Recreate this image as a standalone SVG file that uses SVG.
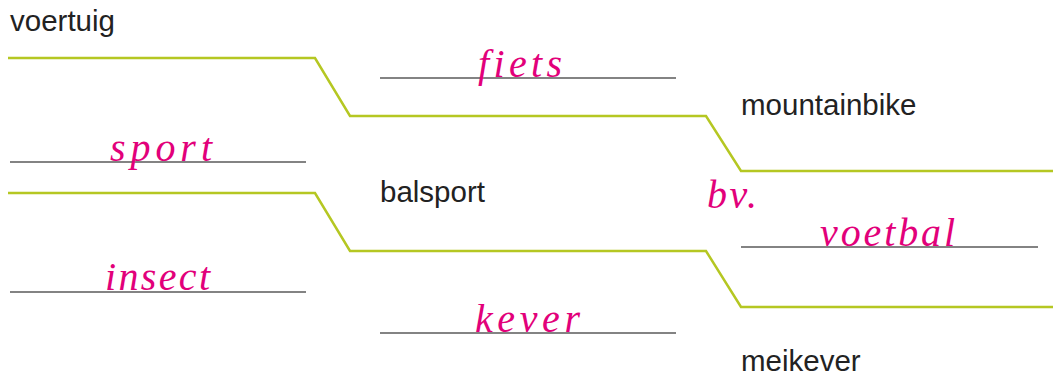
<svg xmlns="http://www.w3.org/2000/svg" width="1053" height="378" viewBox="0 0 1053 378">
<style>
.g{fill:none;stroke:#b5c722;stroke-width:2.5;stroke-linejoin:miter}
.u{stroke:#5a5a5a;stroke-width:1.3}
.t{font-family:"Liberation Sans",Arial,sans-serif;font-size:29.5px;fill:#222}
.h{font-family:"Liberation Serif","DejaVu Serif",serif;font-style:italic;font-size:40px;fill:#e2007a}
</style>
<rect width="1053" height="378" fill="#fff"/>
<g id="connectors">
<polyline class="g" points="8,58 315,58 350,116 706,116 741,171 1053,171"/>
<polyline class="g" points="8,193 315,193 350,251 706,251 741,307 1053,307"/>
</g>
<g id="n-voertuig"><text class="t" x="10" y="31">voertuig</text></g>
<g id="n-fiets"><line class="u" x1="380" y1="78" x2="676" y2="78"/><text class="h" x="478" y="77" textLength="84" lengthAdjust="spacing">fiets</text></g>
<g id="n-mountainbike"><text class="t" x="741" y="115">mountainbike</text></g>
<g id="n-sport"><line class="u" x1="10" y1="162" x2="306" y2="162"/><text class="h" x="110" y="161" textLength="102" lengthAdjust="spacing">sport</text></g>
<g id="n-balsport"><text class="t" x="380" y="202">balsport</text></g>
<g id="n-bv"><text class="h" x="707" y="208" textLength="50" lengthAdjust="spacing">bv.</text></g>
<g id="n-voetbal"><line class="u" x1="741" y1="247" x2="1038" y2="247"/><text class="h" x="820" y="246" textLength="135" lengthAdjust="spacing">voetbal</text></g>
<g id="n-insect"><line class="u" x1="10" y1="292" x2="306" y2="292"/><text class="h" x="105" y="290" textLength="105" lengthAdjust="spacing">insect</text></g>
<g id="n-kever"><line class="u" x1="380" y1="333" x2="676" y2="333"/><text class="h" x="475" y="332" textLength="105" lengthAdjust="spacing">kever</text></g>
<g id="n-meikever"><text class="t" x="741" y="371">meikever</text></g>
</svg>
